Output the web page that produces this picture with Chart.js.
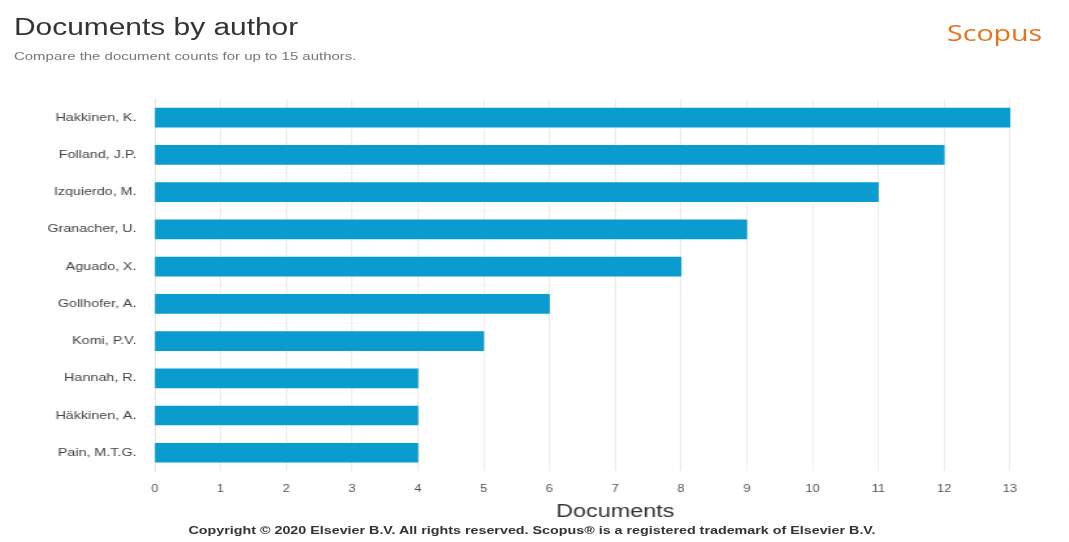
<!DOCTYPE html>
<html>
<head>
<meta charset="utf-8">
<script src="https://cdn.jsdelivr.net/npm/chart.js@4/dist/chart.umd.min.js"></script>
<style>
  html,body{margin:0;padding:0;background:#fff;overflow:hidden;width:1069px;height:542px;font-family:"Liberation Sans",Arial,sans-serif;}
  /* the reference is stretched sideways, so the whole chart is widened by 1.3 */
  .wrap{position:absolute;left:0;top:0;width:845px;height:542px;transform:scaleX(1.3);transform-origin:0 0;}
  .wide{position:absolute;white-space:nowrap;transform:scaleX(1.3);transform-origin:0 0;}
  .title{left:14px;top:14px;font-size:23px;color:#333;}
  .sub{left:14px;top:50px;font-size:11.5px;color:#777;}
  .brand{left:947px;top:17px;font-size:22px;color:#e9711c;font-family:"Open Sans","Liberation Sans",sans-serif;}
  .copy{position:absolute;white-space:nowrap;left:532px;top:524px;font-size:11px;font-weight:bold;color:#333;transform:translateX(-50%) scaleX(1.3);transform-origin:center;}
</style>
</head>
<body>
<div class="wrap"><canvas id="chart-authors" width="845" height="542"></canvas></div>
<div class="wide title">Documents by author</div>
<div class="wide sub">Compare the document counts for up to 15 authors.</div>
<div class="wide brand">Scopus</div>
<div class="copy">Copyright © 2020 Elsevier B.V. All rights reserved. Scopus® is a registered trademark of Elsevier B.V.</div>
<script>
const authors=['Hakkinen, K.','Folland, J.P.','Izquierdo, M.','Granacher, U.','Aguado, X.','Gollhofer, A.','Komi, P.V.','Hannah, R.','Häkkinen, A.','Pain, M.T.G.'];
const docCounts=[13,12,11,9,8,6,5,4,4,4];
const xTicks=[0,1,2,3,4,5,6,7,8,9,10,11,12,13,14];

function drawChart(id){
  const canvas=document.getElementById(id);
  if(!canvas || typeof Chart==='undefined') return;
  new Chart(canvas,{
    type:'bar',
    data:{
      labels:authors,
      datasets:[{label:'Documents',data:docCounts,backgroundColor:'#0a9ccf',barThickness:19}]
    },
    options:{
      indexAxis:'y',
      responsive:false,
      animation:false,
      layout:{padding:{top:99,bottom:19,right:0,left:0}},
      plugins:{legend:{display:false},tooltip:{enabled:false}},
      scales:{
        x:{
          min:0,max:14,
          afterBuildTicks:s=>{s.ticks=xTicks.map(v=>({value:v}));},
          grid:{color:'#ececec',drawTicks:false},
          border:{display:false},
          ticks:{color:'#555',font:{family:'Liberation Sans',size:10},padding:12},
          title:{display:true,text:'Documents',color:'#333',font:{family:'Liberation Sans',size:18},padding:{top:-6,bottom:0}}
        },
        y:{
          afterFit:s=>{s.width=119;},
          grid:{display:false},
          border:{color:'#e4e4e4'},
          ticks:{color:'#444',font:{family:'Liberation Sans',size:11},padding:6}
        }
      }
    }
  });
}
drawChart('chart-authors');
</script>
</body>
</html>
